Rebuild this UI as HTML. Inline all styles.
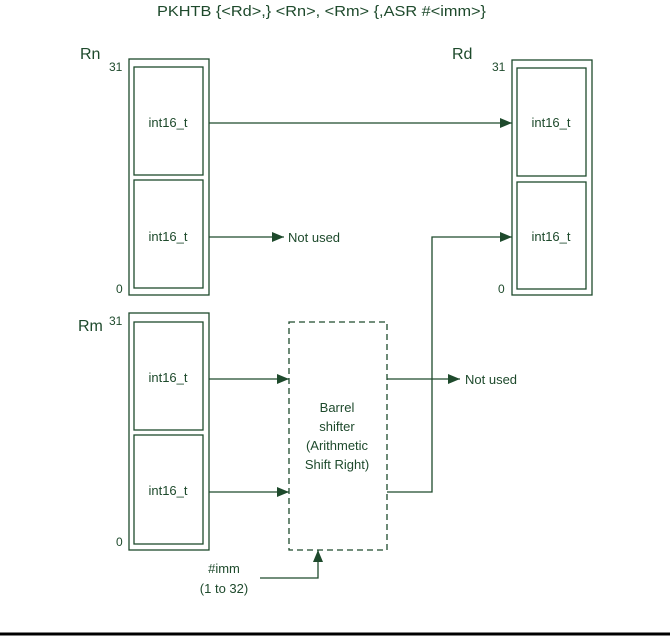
<!DOCTYPE html>
<html><head><meta charset="utf-8"><style>
html,body{margin:0;padding:0;background:#fff;width:670px;height:638px;overflow:hidden}
svg text{font-family:"Liberation Sans",sans-serif;fill:#1e4a2c}
</style></head><body>
<svg width="670" height="638" viewBox="0 0 670 638" xmlns="http://www.w3.org/2000/svg">
<defs><marker id="a" markerWidth="12" markerHeight="10" refX="12" refY="5" orient="auto" markerUnits="userSpaceOnUse"><path d="M0,0 L12,5 L0,10 z" fill="#1e4a2c"/></marker></defs>
<g fill="none" stroke="#1e4a2c" stroke-width="1.3">
<rect x="129" y="59" width="80" height="236"/>
<rect x="134" y="67" width="69" height="108"/>
<rect x="134" y="180" width="69" height="108"/>
<rect x="512" y="60" width="80" height="235"/>
<rect x="517" y="68" width="69" height="108"/>
<rect x="517" y="182" width="69" height="107"/>
<rect x="129" y="313" width="80" height="237"/>
<rect x="134" y="322" width="69" height="108"/>
<rect x="134" y="435" width="69" height="109"/>
<rect x="289" y="322" width="98" height="228" stroke-dasharray="6,4"/>
<line x1="209" y1="123" x2="512" y2="123" marker-end="url(#a)"/>
<line x1="209" y1="237" x2="284" y2="237" marker-end="url(#a)"/>
<line x1="209" y1="379" x2="289" y2="379" marker-end="url(#a)"/>
<line x1="209" y1="492" x2="289" y2="492" marker-end="url(#a)"/>
<line x1="387" y1="379" x2="460" y2="379" marker-end="url(#a)"/>
<polyline points="387,492 432,492 432,237 512,237" marker-end="url(#a)"/>
<polyline points="260,578 318,578 318,550" marker-end="url(#a)"/>
</g>
<line x1="0" y1="634" x2="670" y2="634" stroke="#000" stroke-width="3"/>
<text x="157" y="16" font-size="15" textLength="329" lengthAdjust="spacingAndGlyphs">PKHTB  {&lt;Rd&gt;,} &lt;Rn&gt;, &lt;Rm&gt; {,ASR #&lt;imm&gt;}</text>
<text x="80" y="59" font-size="16">Rn</text>
<text x="452" y="59" font-size="16">Rd</text>
<text x="78" y="331" font-size="16">Rm</text>
<g font-size="12">
<text x="109" y="71">31</text><text x="116" y="293">0</text>
<text x="492" y="71">31</text><text x="498" y="293">0</text>
<text x="109" y="325">31</text><text x="116" y="546">0</text>
</g>
<g font-size="13" text-anchor="middle">
<text x="168" y="127">int16_t</text><text x="168" y="241">int16_t</text>
<text x="551" y="127">int16_t</text><text x="551" y="241">int16_t</text>
<text x="168" y="382">int16_t</text><text x="168" y="495">int16_t</text>
<text x="337" y="412">Barrel</text><text x="337" y="431">shifter</text>
<text x="337" y="450">(Arithmetic</text><text x="337" y="469">Shift Right)</text>
<text x="224" y="573">#imm</text><text x="224" y="593">(1 to 32)</text>
</g>
<g font-size="13"><text x="288" y="242">Not used</text><text x="465" y="384">Not used</text></g>
</svg>
</body></html>
